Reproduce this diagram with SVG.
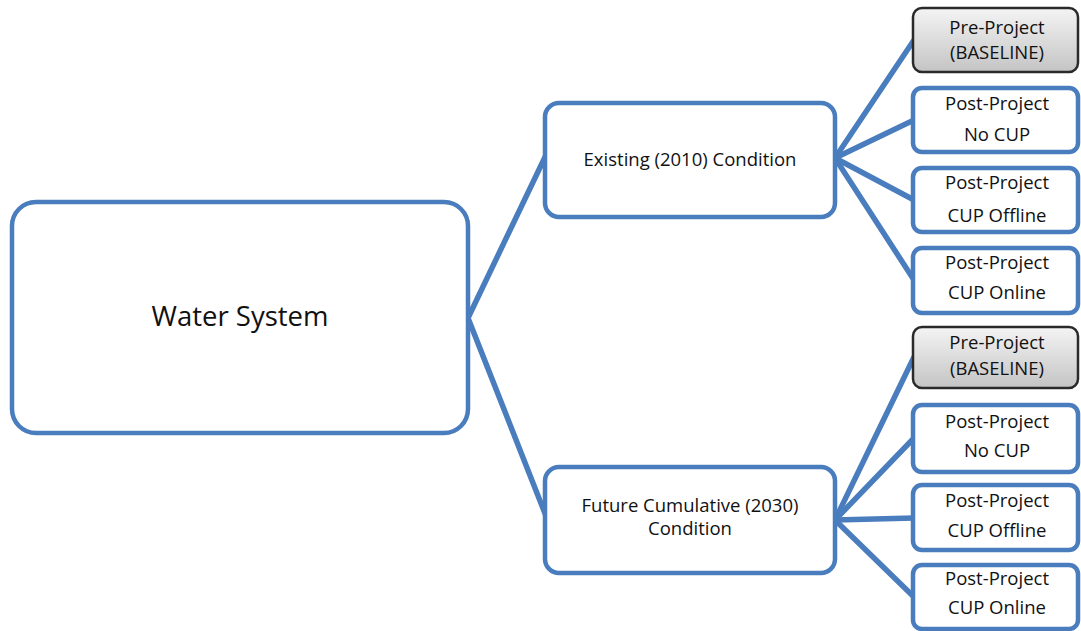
<svg xmlns="http://www.w3.org/2000/svg" width="1081" height="631" viewBox="0 0 1081 631">
<defs>
<linearGradient id="gray" x1="0" y1="0" x2="0" y2="1">
<stop offset="0" stop-color="#f4f4f4"/>
<stop offset="1" stop-color="#c4c4c4"/>
</linearGradient>
</defs>
<style>
.box{fill:#ffffff;stroke:#4a7dbd;stroke-width:4.5}
.base{fill:url(#gray);stroke:#2a2a2a;stroke-width:2.5}
.conn{stroke:#4a7dbd;stroke-width:5.5;fill:none;stroke-linecap:round}
text{font-family:"Open Sans","Liberation Sans",sans-serif;fill:#111;text-anchor:middle}
.t{font-size:18.5px}
</style>
<rect width="1081" height="631" fill="#ffffff"/>
<g id="connectors">
<line class="conn" x1="468" y1="318" x2="546" y2="155"/>
<line class="conn" x1="468" y1="318" x2="546" y2="516"/>
<line class="conn" x1="835" y1="158" x2="914" y2="40"/>
<line class="conn" x1="835" y1="158" x2="914" y2="120"/>
<line class="conn" x1="835" y1="158" x2="914" y2="200"/>
<line class="conn" x1="835" y1="158" x2="914" y2="280"/>
<line class="conn" x1="835" y1="520" x2="914" y2="357"/>
<line class="conn" x1="835" y1="520" x2="914" y2="438"/>
<line class="conn" x1="835" y1="520" x2="914" y2="518"/>
<line class="conn" x1="835" y1="520" x2="914" y2="597"/>
</g>
<g id="water-system">
<rect class="box" x="12" y="202" width="456" height="231" rx="24"/>
<text x="240" y="326" font-size="27.5">Water System</text>
</g>
<g id="existing">
<rect class="box" x="545" y="103" width="290" height="114" rx="14"/>
<text class="t" x="690" y="166">Existing (2010) Condition</text>
</g>
<g id="future">
<rect class="box" x="545" y="467" width="290" height="106" rx="14"/>
<text class="t" x="690" y="512">Future Cumulative (2030)</text>
<text class="t" x="690" y="535">Condition</text>
</g>
<g id="e-pre">
<rect class="base" x="913" y="8" width="165" height="64" rx="9"/>
<text class="t" x="997" y="34">Pre-Project</text>
<text class="t" x="997" y="59">(BASELINE)</text>
</g>
<g id="e-nocup">
<rect class="box" x="913" y="88" width="165" height="64" rx="9"/>
<text class="t" x="997" y="110">Post-Project</text>
<text class="t" x="997" y="141">No CUP</text>
</g>
<g id="e-offline">
<rect class="box" x="913" y="168" width="165" height="64" rx="9"/>
<text class="t" x="997" y="189">Post-Project</text>
<text class="t" x="997" y="222">CUP Offline</text>
</g>
<g id="e-online">
<rect class="box" x="913" y="248" width="165" height="65" rx="9"/>
<text class="t" x="997" y="269">Post-Project</text>
<text class="t" x="997" y="299">CUP Online</text>
</g>
<g id="f-pre">
<rect class="base" x="913" y="327" width="165" height="61" rx="9"/>
<text class="t" x="997" y="349">Pre-Project</text>
<text class="t" x="997" y="375">(BASELINE)</text>
</g>
<g id="f-nocup">
<rect class="box" x="913" y="405" width="165" height="67" rx="9"/>
<text class="t" x="997" y="428">Post-Project</text>
<text class="t" x="997" y="457">No CUP</text>
</g>
<g id="f-offline">
<rect class="box" x="913" y="485" width="165" height="65" rx="9"/>
<text class="t" x="997" y="507">Post-Project</text>
<text class="t" x="997" y="537">CUP Offline</text>
</g>
<g id="f-online">
<rect class="box" x="913" y="565" width="165" height="64" rx="9"/>
<text class="t" x="997" y="585">Post-Project</text>
<text class="t" x="997" y="614">CUP Online</text>
</g>
</svg>
